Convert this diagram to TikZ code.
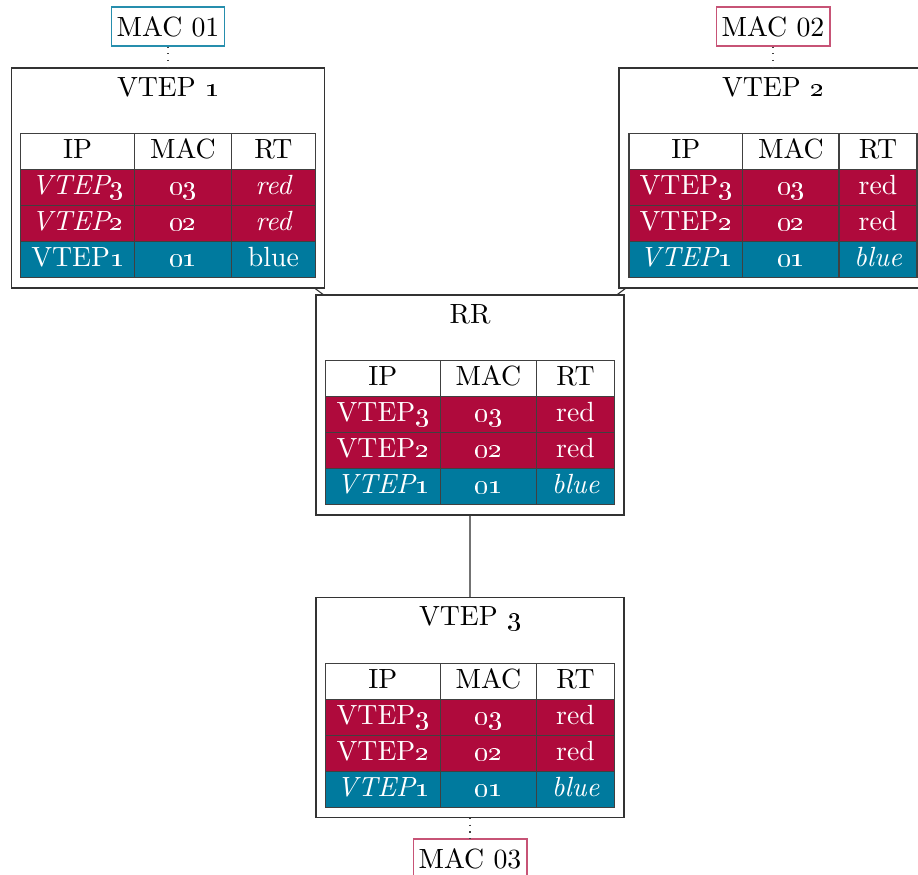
\documentclass[tikz,border=0pt]{standalone}
\usetikzlibrary{matrix,positioning}
\definecolor{fibred}{RGB}{175,10,60}
\definecolor{fibblue}{RGB}{0,122,158}
\newcommand{\osn}[1]{\oldstylenums{#1}}

\tikzset{
  machine/.style={draw=black!80, minimum height=79.2pt, inner sep=0pt},
  titre/.style={anchor=north},
  macbox/.style={draw=#1, inner xsep=2pt, minimum width=41pt, minimum height=13.3pt},
  fib/.style n args={3}{matrix of nodes, nodes in empty cells, inner sep=0pt,
    column sep=-\pgflinewidth, row sep=-\pgflinewidth,
    nodes={draw=black!75, fill=fibred, text=white, inner sep=0pt,
      minimum height=12.96pt, text height=6.9pt, text depth=1.9pt},
    column 1/.style={nodes={minimum width=#1}},
    column 2/.style={nodes={minimum width=#2}},
    column 3/.style={nodes={minimum width=#3}},
    row 1/.style={nodes={fill=white, text=black}},
    row 4/.style={nodes={fill=fibblue}}},
  lien/.style={draw=black!80},
  pointille/.style={draw=black!75, dotted},
}

\begin{document}
\begin{tikzpicture}[x=0.36pt, y=-0.36pt]
  \useasboundingbox (0,0) rectangle (918,874);

  % boites
  \node[machine, minimum width=113pt] (vtep1) at (168,178) {};
  \node[machine, minimum width=110.9pt] (vtep2) at (773,178) {};
  \node[machine, minimum width=110.9pt] (rr) at (470,405) {};
  \node[machine, minimum width=110.9pt] (vtep3) at (470,707.5) {};

  \node[titre] (t1) at (vtep1.north) {VTEP \osn{1}};
  \node[titre] (t2) at (vtep2.north) {VTEP \osn{2}};
  \node[titre] (trr) at (rr.north) {RR};
  \node[titre] (t3) at (vtep3.north) {VTEP \osn{3}};

  % tables
  \matrix (fib1) [fib={41pt}{34.9pt}{30.2pt},
    row 2/.style={nodes={font=\itshape}}, row 3/.style={nodes={font=\itshape}},
    below=23.4pt of vtep1.north] {
    IP & MAC & RT \\
    VTEP\osn{3} & \osn{03} & red \\
    VTEP\osn{2} & \osn{02} & red \\
    VTEP\osn{1} & \osn{01} & blue \\
  };
  \matrix (fib2) [fib={41pt}{34.6pt}{28.1pt},
    row 4/.append style={nodes={font=\itshape}},
    below=23.4pt of vtep2.north] {
    IP & MAC & RT \\
    VTEP\osn{3} & \osn{03} & red \\
    VTEP\osn{2} & \osn{02} & red \\
    VTEP\osn{1} & \osn{01} & blue \\
  };
  \matrix (fibrr) [fib={41.4pt}{34.6pt}{28.1pt},
    row 4/.append style={nodes={font=\itshape}},
    below=23.4pt of rr.north] {
    IP & MAC & RT \\
    VTEP\osn{3} & \osn{03} & red \\
    VTEP\osn{2} & \osn{02} & red \\
    VTEP\osn{1} & \osn{01} & blue \\
  };
  \matrix (fib3) [fib={41.4pt}{34.6pt}{28.1pt},
    row 4/.append style={nodes={font=\itshape}},
    below=23.4pt of vtep3.north] {
    IP & MAC & RT \\
    VTEP\osn{3} & \osn{03} & red \\
    VTEP\osn{2} & \osn{02} & red \\
    VTEP\osn{1} & \osn{01} & blue \\
  };

  % adresses MAC
  \node[macbox=fibblue!85] (mac1) at (168,26.5) {MAC 01};
  \node[macbox=fibred!70] (mac2) at (773,26.5) {MAC 02};
  \node[macbox=fibred!70] (mac3) at (470,858.5) {MAC 03};

  % liens
  \draw[lien] (vtep1) -- (rr);
  \draw[lien] (vtep2) -- (rr);
  \draw[black!55] (rr) -- (vtep3);
  \draw[pointille] (mac1) -- (vtep1);
  \draw[pointille] (mac2) -- (vtep2);
  \draw[pointille] (vtep3) -- (mac3);
\end{tikzpicture}
\end{document}
